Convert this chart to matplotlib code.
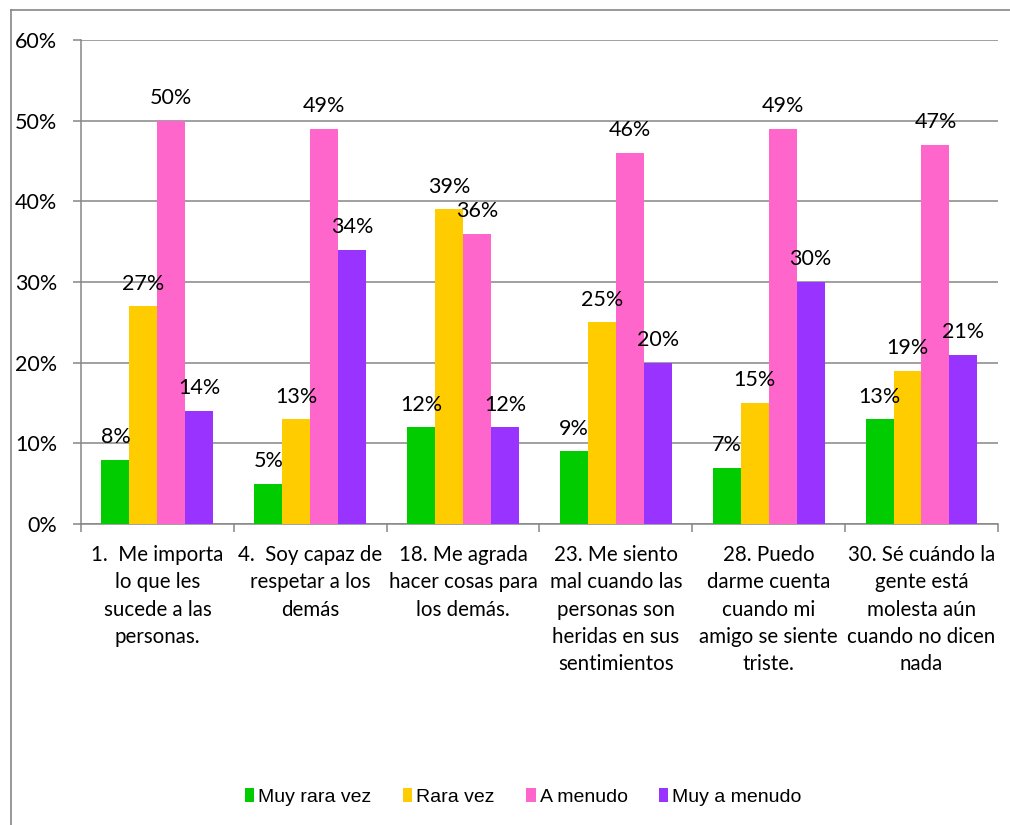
import numpy as np
import matplotlib
matplotlib.use("Agg")
import matplotlib.pyplot as plt
from matplotlib.lines import Line2D

# DATOS
categorias = ["1.  Me importa\nlo que les\nsucede a las\npersonas.",
              "4.  Soy capaz de\nrespetar a los\ndemás",
              "18. Me agrada\nhacer cosas para\nlos demás.",
              "23. Me siento\nmal cuando las\npersonas son\nheridas en sus\nsentimientos",
              "28. Puedo\ndarme cuenta\ncuando mi\namigo se siente\ntriste.",
              "30. Sé cuándo la\ngente está\nmolesta aún\ncuando no dicen\nnada"]
series = ["Muy rara vez", "Rara vez", "A menudo", "Muy a menudo"]
muy_rara_vez = [8, 5, 12, 9, 7, 13]
rara_vez = [27, 13, 39, 25, 15, 19]
a_menudo = [50, 49, 36, 46, 49, 47]
muy_a_menudo = [14, 34, 12, 20, 30, 21]
colores = ["#00CC00", "#FFCC00", "#FF66CC", "#9933FF"]

valores = [muy_rara_vez, rara_vez, a_menudo, muy_a_menudo]

fuente = "Lato"
gris = "#868686"

fig = plt.figure(figsize=(10.1, 8.25), dpi=100)
ax = fig.add_axes([0.0802, 0.3648, 0.9078, 0.5867])

x = np.arange(len(categorias))
ancho = 0.183
for j in range(4):
    pos = x + (j - 1.5) * ancho
    barras = ax.bar(pos, valores[j], ancho, color=colores[j], label=series[j], zorder=3)
    for p, v in zip(pos, valores[j]):
        ax.annotate(str(v) + "%", (p, v), xytext=(0, 12), textcoords="offset points",
                    ha="center", va="baseline", fontsize=15.5, family=fuente, zorder=4)

ax.set_xlim(-0.5, 5.5)
ax.set_ylim(0, 60)
ax.set_yticks(range(0, 61, 10))
ax.set_yticklabels([str(t) + "%" for t in range(0, 61, 10)], family=fuente, fontsize=15.5)
ax.yaxis.grid(True, color=gris, linewidth=1.1, zorder=0)
ax.tick_params(axis="y", length=6, width=1.1, color=gris, pad=11)

# marcas entre categorias
ax.set_xticks(np.arange(-0.5, 6, 1))
ax.set_xticklabels([])
ax.tick_params(axis="x", length=6, width=1.1, color=gris)
for i, c in enumerate(categorias):
    ax.text(i, -2.6, c, ha="center", va="top", fontsize=14.8, family=fuente,
            linespacing=1.46)

for s in ["top", "right"]:
    ax.spines[s].set_visible(False)
for s in ["left", "bottom"]:
    ax.spines[s].set_color(gris)
    ax.spines[s].set_linewidth(1.1)

# marco del grafico
fig.add_artist(Line2D([11 / 1010, 11 / 1010], [0, 1 - 10 / 825], color=gris, linewidth=1.2,
                      transform=fig.transFigure))
fig.add_artist(Line2D([11 / 1010, 1], [1 - 10 / 825, 1 - 10 / 825], color=gris, linewidth=1.2,
                      transform=fig.transFigure))

fig.legend(loc="center", bbox_to_anchor=(0.518, 1 - 797 / 825), ncol=4, frameon=False,
           prop={"family": "Liberation Sans", "size": 14}, handlelength=0.5, handleheight=0.7,
           handletextpad=0.2, columnspacing=1.6)

fig.savefig("out.png", dpi=100)
